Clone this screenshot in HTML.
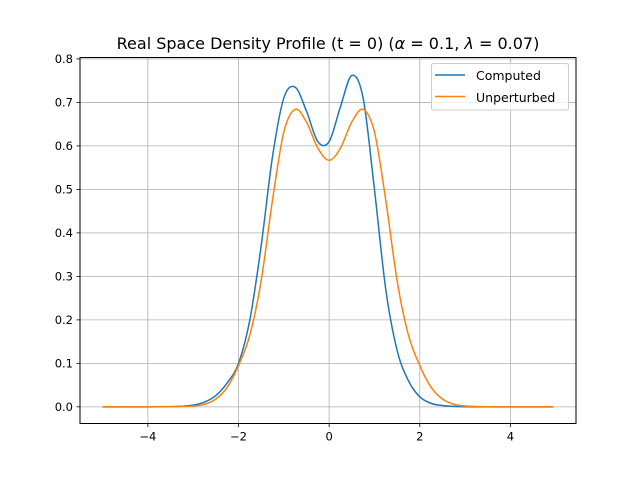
<!DOCTYPE html>
<html><head><meta charset="utf-8"><style>
body{margin:0;background:#fff}
svg text{font-family:"DejaVu Sans","Liberation Sans",sans-serif}
</style></head><body>
<svg id="chart" width="640" height="476" viewBox="0 0 640 476" xmlns="http://www.w3.org/2000/svg">
<rect width="640" height="476" fill="#fff"/>
<g id="grid"></g>
<g id="series"></g>
<rect x="80" y="57.5" width="496" height="366" fill="none" stroke="#000" stroke-width="1"/>
<g id="ticks"></g>
<text x="328" y="49" font-size="16" text-anchor="middle">Real Space Density Profile (t = 0) (<tspan font-style="italic">α</tspan> = 0.1, <tspan font-style="italic">λ</tspan> = 0.07)</text>
<g>
<rect x="431.5" y="63.5" width="137" height="46.5" rx="2" fill="#fff" fill-opacity="0.8" stroke="#ccc"/>
<line x1="435" y1="75" x2="465" y2="75" stroke="#1f77b4" stroke-width="1.5"/>
<text x="476" y="80" font-size="12.5">Computed</text>
<line x1="435" y1="96.5" x2="465" y2="96.5" stroke="#ff7f0e" stroke-width="1.5"/>
<text x="476" y="102" font-size="12.5">Unperturbed</text>
</g>
</svg>
<script>
const xTicks=[-4,-2,0,2,4];
const yTicks=[0,0.1,0.2,0.3,0.4,0.5,0.6,0.7,0.8];
const yTickLabels=["0.0","0.1","0.2","0.3","0.4","0.5","0.6","0.7","0.8"];
const computedX=[-5,-4.5,-4,-3.5,-3.25,-3,-2.75,-2.5,-2.25,-2,-1.75,-1.5,-1.25,-1,-0.75,-0.5,-0.25,0,0.25,0.5,0.75,1,1.25,1.5,1.75,2,2.25,2.5,2.75,3,3.5,4,4.5,4.95];
const computedY=[0,0,0,0.0005,0.0015,0.004,0.011,0.026,0.055,0.1,0.2,0.37,0.575,0.71,0.735,0.68,0.61,0.61,0.69,0.762,0.71,0.5,0.27,0.13,0.06,0.023,0.008,0.003,0.001,0.0003,0,0,0,0];
const unpertX=[-5,-4.5,-4,-3.5,-3.25,-3,-2.75,-2.5,-2.25,-2,-1.75,-1.5,-1.25,-1,-0.75,-0.5,-0.25,0,0.25,0.5,0.75,1,1.25,1.5,1.75,2,2.25,2.5,2.75,3,3.5,4,4.5,4.95];
const unpertY=[0,0,0,0.0003,0.001,0.002,0.006,0.018,0.045,0.095,0.165,0.29,0.475,0.632,0.684,0.655,0.595,0.567,0.595,0.655,0.684,0.632,0.475,0.29,0.165,0.095,0.045,0.018,0.006,0.002,0.0003,0,0,0];
const NS='http://www.w3.org/2000/svg';
const X0=80,X1=576,Y0=423.5,Y1=57.5,xmin=-5.4975,xmax=5.4475,ymin=-0.0383,ymax=0.8033;
function sx(v){return X0+(v-xmin)/(xmax-xmin)*(X1-X0);}
function sy(v){return Y0-(v-ymin)/(ymax-ymin)*(Y0-Y1);}
function mk(t,a,p){const e=document.createElementNS(NS,t);for(const k in a)e.setAttribute(k,a[k]);p.appendChild(e);return e;}
const grid=document.getElementById('grid'),ticks=document.getElementById('ticks'),series=document.getElementById('series');
xTicks.forEach(v=>{const x=sx(v);
 const g=mk('line',{x1:x,x2:x,y1:Y1,y2:Y0,stroke:'#b0b0b0','stroke-width':0.8},grid);
 
 
 mk('line',{x1:x,x2:x,y1:Y0,y2:Y0+3.5,stroke:'#000','stroke-width':0.8},ticks);
 const t=mk('text',{x:x,y:Y0+17,'font-size':11.5,'text-anchor':'middle'},ticks);t.textContent=(v<0?'\u2212'+(-v):String(v));
 
 });
yTicks.forEach((v,i)=>{const y=sy(v);
 const g=mk('line',{x1:X0,x2:X1,y1:y,y2:y,stroke:'#b0b0b0','stroke-width':0.8},grid);
 
 
 mk('line',{x1:X0-3.5,x2:X0,y1:y,y2:y,stroke:'#000','stroke-width':0.8},ticks);
 const t=mk('text',{x:X0-7,y:y+4,'font-size':11.5,'text-anchor':'end'},ticks);t.textContent=yTickLabels[i];
 
 });
function path(xs,ys){const p=xs.map((x,i)=>[sx(x),sy(ys[i])]);let d='M'+p[0][0]+','+p[0][1];
 for(let i=0;i<p.length-1;i++){const a=p[Math.max(0,i-1)],b=p[i],c=p[i+1],e=p[Math.min(p.length-1,i+2)];
  const c1=[b[0]+(c[0]-a[0])/6,b[1]+(c[1]-a[1])/6],c2=[c[0]-(e[0]-b[0])/6,c[1]-(e[1]-b[1])/6];
  d+=' C'+c1+' '+c2+' '+c;}return d;}
const l1=mk('path',{d:path(computedX,computedY),fill:'none',stroke:'#1f77b4','stroke-width':1.5},series);


const l2=mk('path',{d:path(unpertX,unpertY),fill:'none',stroke:'#ff7f0e','stroke-width':1.5},series);


</script>
</body></html>
